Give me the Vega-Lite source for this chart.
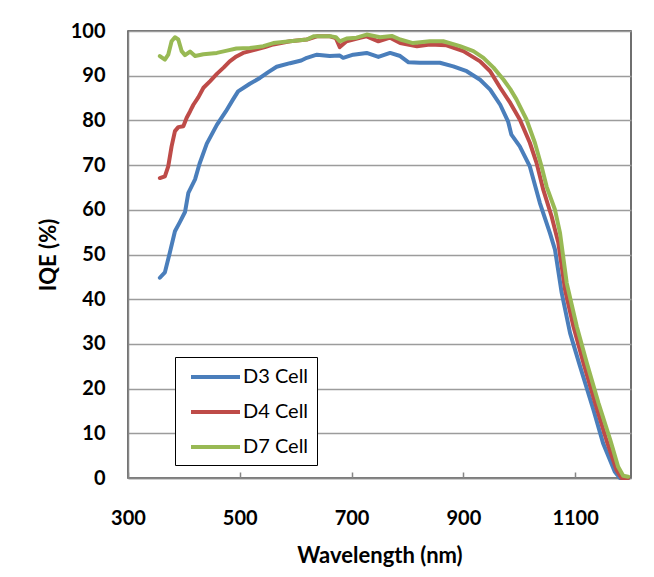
{
  "$schema": "https://vega.github.io/schema/vega-lite/v6.json",
  "autosize": {"type": "none"},
  "width": 503,
  "height": 447,
  "padding": {"left": 128, "top": 31, "right": 23, "bottom": 99},
  "background": "white",
  "config": {
    "font": "Lato",
    "view": {"stroke": "#404040", "strokeWidth": 1.5},
    "axis": {"labelFont": "Lato", "titleFont": "Lato", "labelColor": "#000", "titleColor": "#000", "domainColor": "#868686", "domainWidth": 1.5}
  },
  "data": {"values": [
    {"s":"D3 Cell","w":357,"v":44.8},{"s":"D3 Cell","w":366,"v":46},{"s":"D3 Cell","w":375,"v":50.5},{"s":"D3 Cell","w":384,"v":55.2},{"s":"D3 Cell","w":393,"v":57.3},{"s":"D3 Cell","w":402,"v":59.5},{"s":"D3 Cell","w":408,"v":63.8},{"s":"D3 Cell","w":414,"v":65.3},{"s":"D3 Cell","w":420,"v":66.8},{"s":"D3 Cell","w":428,"v":70.3},{"s":"D3 Cell","w":441,"v":74.8},{"s":"D3 Cell","w":459,"v":79},{"s":"D3 Cell","w":475,"v":82},{"s":"D3 Cell","w":488,"v":84.7},{"s":"D3 Cell","w":497,"v":86.5},{"s":"D3 Cell","w":518,"v":88.2},{"s":"D3 Cell","w":536,"v":89.5},{"s":"D3 Cell","w":551,"v":90.8},{"s":"D3 Cell","w":566,"v":92},{"s":"D3 Cell","w":590,"v":92.8},{"s":"D3 Cell","w":610,"v":93.4},{"s":"D3 Cell","w":620,"v":94},{"s":"D3 Cell","w":638,"v":94.7},{"s":"D3 Cell","w":661,"v":94.4},{"s":"D3 Cell","w":679,"v":94.5},{"s":"D3 Cell","w":685,"v":94},{"s":"D3 Cell","w":703,"v":94.7},{"s":"D3 Cell","w":727,"v":95.1},{"s":"D3 Cell","w":748,"v":94.2},{"s":"D3 Cell","w":769,"v":95.1},{"s":"D3 Cell","w":787,"v":94.4},{"s":"D3 Cell","w":802,"v":93},{"s":"D3 Cell","w":822,"v":92.9},{"s":"D3 Cell","w":858,"v":92.9},{"s":"D3 Cell","w":882,"v":92.1},{"s":"D3 Cell","w":906,"v":91},{"s":"D3 Cell","w":930,"v":89.1},{"s":"D3 Cell","w":948,"v":86.9},{"s":"D3 Cell","w":966,"v":83.5},{"s":"D3 Cell","w":980,"v":79.8},{"s":"D3 Cell","w":986,"v":76.8},{"s":"D3 Cell","w":1001,"v":74.2},{"s":"D3 Cell","w":1019,"v":69.7},{"s":"D3 Cell","w":1037,"v":61.5},{"s":"D3 Cell","w":1055,"v":54.8},{"s":"D3 Cell","w":1064,"v":51.1},{"s":"D3 Cell","w":1076,"v":41.4},{"s":"D3 Cell","w":1091,"v":32.4},{"s":"D3 Cell","w":1109,"v":24.9},{"s":"D3 Cell","w":1133,"v":15.2},{"s":"D3 Cell","w":1150,"v":7.8},{"s":"D3 Cell","w":1171,"v":1.4},{"s":"D3 Cell","w":1180,"v":0},{"s":"D3 Cell","w":1195,"v":0},
    {"s":"D4 Cell","w":357,"v":67.1},{"s":"D4 Cell","w":366,"v":67.5},{"s":"D4 Cell","w":372,"v":69.7},{"s":"D4 Cell","w":378,"v":74.2},{"s":"D4 Cell","w":384,"v":77.6},{"s":"D4 Cell","w":390,"v":78.5},{"s":"D4 Cell","w":399,"v":78.7},{"s":"D4 Cell","w":405,"v":80.6},{"s":"D4 Cell","w":411,"v":82},{"s":"D4 Cell","w":417,"v":83.5},{"s":"D4 Cell","w":426,"v":85.2},{"s":"D4 Cell","w":435,"v":87.3},{"s":"D4 Cell","w":447,"v":88.8},{"s":"D4 Cell","w":459,"v":90.4},{"s":"D4 Cell","w":471,"v":91.8},{"s":"D4 Cell","w":482,"v":93.2},{"s":"D4 Cell","w":494,"v":94.3},{"s":"D4 Cell","w":506,"v":95.1},{"s":"D4 Cell","w":530,"v":95.9},{"s":"D4 Cell","w":545,"v":96.4},{"s":"D4 Cell","w":560,"v":97},{"s":"D4 Cell","w":590,"v":97.7},{"s":"D4 Cell","w":620,"v":98.1},{"s":"D4 Cell","w":638,"v":98.8},{"s":"D4 Cell","w":661,"v":98.8},{"s":"D4 Cell","w":672,"v":98.4},{"s":"D4 Cell","w":679,"v":96.4},{"s":"D4 Cell","w":691,"v":97.7},{"s":"D4 Cell","w":703,"v":98.1},{"s":"D4 Cell","w":715,"v":98.5},{"s":"D4 Cell","w":727,"v":98.8},{"s":"D4 Cell","w":748,"v":97.7},{"s":"D4 Cell","w":769,"v":98.5},{"s":"D4 Cell","w":787,"v":97.3},{"s":"D4 Cell","w":817,"v":96.6},{"s":"D4 Cell","w":840,"v":97},{"s":"D4 Cell","w":870,"v":96.8},{"s":"D4 Cell","w":900,"v":95.5},{"s":"D4 Cell","w":930,"v":93.2},{"s":"D4 Cell","w":948,"v":91},{"s":"D4 Cell","w":966,"v":87.3},{"s":"D4 Cell","w":984,"v":83.9},{"s":"D4 Cell","w":1001,"v":80.2},{"s":"D4 Cell","w":1019,"v":75},{"s":"D4 Cell","w":1031,"v":70.5},{"s":"D4 Cell","w":1043,"v":64.5},{"s":"D4 Cell","w":1058,"v":58.5},{"s":"D4 Cell","w":1070,"v":52.6},{"s":"D4 Cell","w":1082,"v":42.1},{"s":"D4 Cell","w":1097,"v":33.9},{"s":"D4 Cell","w":1115,"v":25.7},{"s":"D4 Cell","w":1136,"v":16.7},{"s":"D4 Cell","w":1156,"v":8.5},{"s":"D4 Cell","w":1174,"v":1.8},{"s":"D4 Cell","w":1183,"v":0},{"s":"D4 Cell","w":1195,"v":0},
    {"s":"D7 Cell","w":357,"v":94.4},{"s":"D7 Cell","w":366,"v":93.6},{"s":"D7 Cell","w":372,"v":94.7},{"s":"D7 Cell","w":378,"v":97.7},{"s":"D7 Cell","w":384,"v":98.6},{"s":"D7 Cell","w":390,"v":98.1},{"s":"D7 Cell","w":396,"v":95.5},{"s":"D7 Cell","w":402,"v":94.6},{"s":"D7 Cell","w":411,"v":95.4},{"s":"D7 Cell","w":420,"v":94.4},{"s":"D7 Cell","w":435,"v":94.8},{"s":"D7 Cell","w":459,"v":95.1},{"s":"D7 Cell","w":477,"v":95.6},{"s":"D7 Cell","w":494,"v":96.1},{"s":"D7 Cell","w":518,"v":96.2},{"s":"D7 Cell","w":542,"v":96.6},{"s":"D7 Cell","w":560,"v":97.3},{"s":"D7 Cell","w":590,"v":97.7},{"s":"D7 Cell","w":620,"v":98.1},{"s":"D7 Cell","w":632,"v":98.8},{"s":"D7 Cell","w":649,"v":98.8},{"s":"D7 Cell","w":664,"v":98.8},{"s":"D7 Cell","w":672,"v":98.6},{"s":"D7 Cell","w":679,"v":97.7},{"s":"D7 Cell","w":691,"v":98.3},{"s":"D7 Cell","w":709,"v":98.5},{"s":"D7 Cell","w":727,"v":99.2},{"s":"D7 Cell","w":751,"v":98.6},{"s":"D7 Cell","w":772,"v":98.9},{"s":"D7 Cell","w":787,"v":98.1},{"s":"D7 Cell","w":810,"v":97.3},{"s":"D7 Cell","w":840,"v":97.7},{"s":"D7 Cell","w":864,"v":97.7},{"s":"D7 Cell","w":894,"v":96.6},{"s":"D7 Cell","w":918,"v":95.5},{"s":"D7 Cell","w":936,"v":94},{"s":"D7 Cell","w":954,"v":91.8},{"s":"D7 Cell","w":972,"v":89.1},{"s":"D7 Cell","w":984,"v":87},{"s":"D7 Cell","w":995,"v":84.7},{"s":"D7 Cell","w":1013,"v":80.2},{"s":"D7 Cell","w":1028,"v":75},{"s":"D7 Cell","w":1040,"v":69.7},{"s":"D7 Cell","w":1049,"v":65.2},{"s":"D7 Cell","w":1064,"v":60},{"s":"D7 Cell","w":1073,"v":54.8},{"s":"D7 Cell","w":1085,"v":43.6},{"s":"D7 Cell","w":1103,"v":33.9},{"s":"D7 Cell","w":1121,"v":25.7},{"s":"D7 Cell","w":1142,"v":16.7},{"s":"D7 Cell","w":1163,"v":8.5},{"s":"D7 Cell","w":1177,"v":2.5},{"s":"D7 Cell","w":1186,"v":0.5},{"s":"D7 Cell","w":1195,"v":0.3}
  ]},
  "mark": {"type": "line", "strokeWidth": 4, "strokeJoin": "round", "strokeCap": "round"},
  "encoding": {
    "x": {
      "field": "w", "type": "quantitative",
      "scale": {"domain": [300, 1200], "nice": false, "zero": false},
      "axis": {"title": "Wavelength (nm)", "format": "d", "values": [300, 500, 700, 900, 1100], "grid": false, "ticks": true, "tickSize": -6, "tickColor": "#868686", "tickWidth": 1.5, "labelFontSize": 20, "labelFontWeight": "bold", "labelPadding": 36, "titleFontSize": 22, "titleFontWeight": "bold", "titlePadding": 17, "labelFlush": false}
    },
    "y": {
      "field": "v", "type": "quantitative",
      "scale": {"domain": [0, 100], "nice": false},
      "axis": {"title": "IQE (%)", "values": [0,10,20,30,40,50,60,70,80,90,100], "ticks": false, "tickSize": 0, "gridColor": "#9c9c9c", "gridWidth": 1.5, "labelFontSize": 20, "labelFontWeight": "bold", "labelPadding": 23, "titleFontSize": 22, "titleFontWeight": "bold", "titlePadding": 10, "labelFlush": false}
    },
    "color": {
      "field": "s", "type": "nominal",
      "scale": {"domain": ["D3 Cell", "D4 Cell", "D7 Cell"], "range": ["#4A7EBB", "#BE4B48", "#98B954"]},
      "legend": {"title": null, "orient": "none", "legendX": 47, "legendY": 326, "padding": 8, "strokeColor": "#000", "fillColor": "#fff", "symbolType": "M-0.4,0H4.5", "symbolSize": 400, "symbolStrokeWidth": 4, "labelFontSize": 20, "labelFont": "Lato", "labelColor": "#000", "labelOffset": 36, "rowPadding": 13}
    }
  }
}
